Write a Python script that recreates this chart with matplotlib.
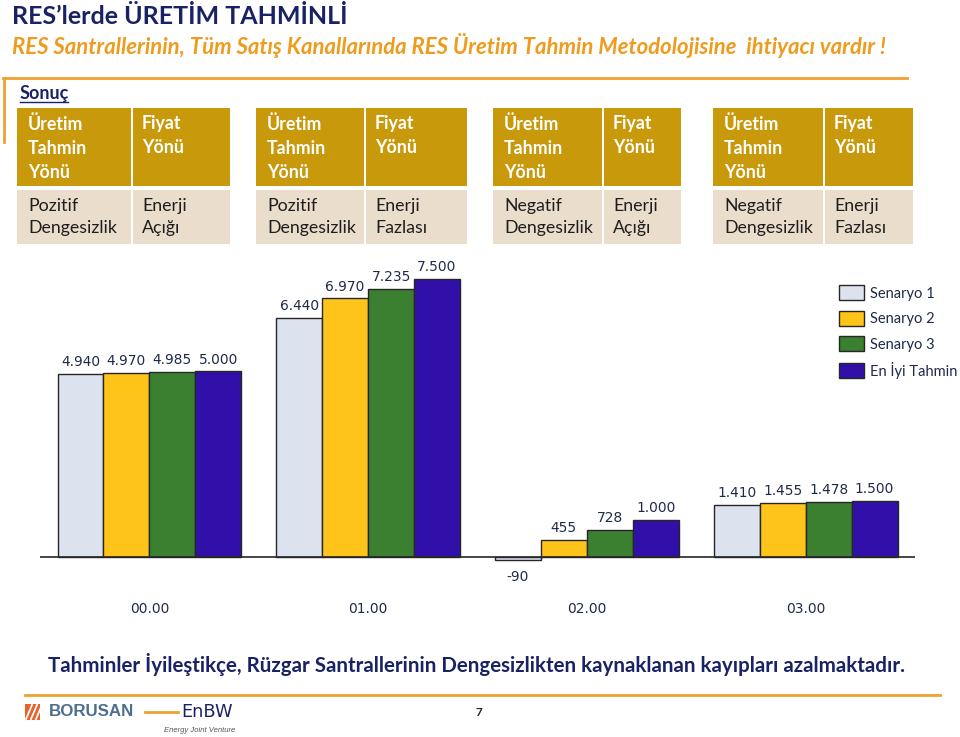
import matplotlib
matplotlib.use("Agg")
import matplotlib.pyplot as plt
from matplotlib.patches import Rectangle
import numpy as np

# ---------------- data ----------------
categories = ["00.00", "01.00", "02.00", "03.00"]
series_names = ["Senaryo 1", "Senaryo 2", "Senaryo 3", "En İyi Tahmin"]
senaryo1 = [4940, 6440, -90, 1410]
senaryo2 = [4970, 6970, 455, 1455]
senaryo3 = [4985, 7235, 728, 1478]
en_iyi = [5000, 7500, 1000, 1500]
value_labels = [
    ["4.940", "6.440", "-90", "1.410"],
    ["4.970", "6.970", "455", "1.455"],
    ["4.985", "7.235", "728", "1.478"],
    ["5.000", "7.500", "1.000", "1.500"],
]
colors = ["#DCE3EE", "#FFC419", "#3B7F30", "#3010A8"]

table_headers = [("Üretim\nTahmin\nYönü", "Fiyat\nYönü")] * 4
table_rows = [("Pozitif\nDengesizlik", "Enerji\nAçığı"),
              ("Pozitif\nDengesizlik", "Enerji\nFazlası"),
              ("Negatif\nDengesizlik", "Enerji\nAçığı"),
              ("Negatif\nDengesizlik", "Enerji\nFazlası")]

title = "RES’lerde ÜRETİM TAHMİNLİ"
subtitle = "RES Santrallerinin, Tüm Satış Kanallarında RES Üretim Tahmin Metodolojisine  ihtiyacı vardır !"
conclusion = "Tahminler İyileştikçe, Rüzgar Santrallerinin Dengesizlikten kaynaklanan kayıpları azalmaktadır."

W, H = 960, 737
fig = plt.figure(figsize=(W / 100, H / 100), dpi=100)
fig.patch.set_facecolor("white")

NAVY = "#1A2266"
ORANGE = "#F0A030"
FONT = ["Lato", "DejaVu Sans"]


def fx(x):
    return x / W


def fy(y):
    return 1 - y / H


def ptext(x, y, s, **kw):
    kw.setdefault("family", FONT)
    return fig.text(fx(x), fy(y), s, **kw)


def prect(x0, y0, x1, y1, **kw):
    r = Rectangle((fx(x0), fy(y1)), fx(x1) - fx(x0), fy(y0) - fy(y1),
                  transform=fig.transFigure, **kw)
    fig.add_artist(r)
    return r


def pline(xs, ys, **kw):
    fig.add_artist(plt.Line2D([fx(x) for x in xs], [fy(y) for y in ys],
                              transform=fig.transFigure, **kw))


# ---------------- titles ----------------
ptext(12, 17, title, fontsize=18, fontweight="bold", color=NAVY, va="center")
ptext(12, 46, subtitle, fontsize=15.9, fontweight="bold", style="italic",
      color="#EE9B1E", va="center")

# orange frame lines
pline([3, 907], [78, 78], color=ORANGE, lw=2)
pline([4, 4], [78, 142], color=ORANGE, lw=2)

ptext(20, 93, "Sonuç", fontsize=13, fontweight="bold", color=NAVY, va="center")
pline([20, 68], [102, 102], color=NAVY, lw=1)

# ---------------- table ----------------
groups_x = [(17, 132, 230), (256, 365, 467), (493, 603, 681), (713, 824, 913)]
HEAD = "#C8990A"
BEIGE = "#EBDDCB"
TFS = 12.8
for (x0, xm, x1), (h1, h2), (r1, r2) in zip(groups_x, table_headers, table_rows):
    prect(x0, 108, xm - 1, 186, color=HEAD, lw=0)
    prect(xm + 1, 108, x1, 186, color=HEAD, lw=0)
    prect(x0, 190, xm - 1, 244, color=BEIGE, lw=0)
    prect(xm + 1, 190, x1, 244, color=BEIGE, lw=0)
    ptext(x0 + 11, 115, h1, fontsize=TFS, fontweight="bold", color="white",
          va="top", linespacing=1.49)
    ptext(xm + 10, 115, h2, fontsize=TFS, fontweight="bold", color="white",
          va="top", linespacing=1.49)
    ptext(x0 + 11, 198, r1, fontsize=TFS, color="#1E1E1E", va="top", linespacing=1.49)
    ptext(xm + 10, 198, r2, fontsize=TFS, color="#1E1E1E", va="top", linespacing=1.49)

# ---------------- bar chart ----------------
ymin, ymax = -1000, 8000
base_px = 557
scale = 0.0371
ax_bottom = base_px - ymin * scale
ax_top = base_px - ymax * scale
ax = fig.add_axes([fx(40), fy(ax_bottom), fx(915) - fx(40), fy(ax_top) - fy(ax_bottom)])
ax.set_xlim(-0.5, 3.5)
ax.set_ylim(ymin, ymax)
ax.axis("off")

x = np.arange(len(categories))
bw = 0.21
all_series = [senaryo1, senaryo2, senaryo3, en_iyi]
handles = []
for j, (vals, col, name) in enumerate(zip(all_series, colors, series_names)):
    xs = x + (j - 1.5) * bw
    bars = ax.bar(xs, vals, width=bw, color=col, edgecolor="#262626", linewidth=1,
                  label=name, zorder=2)
    handles.append(bars)
    for xi, v, lab in zip(xs, vals, value_labels[j]):
        if v >= 0:
            ax.annotate(lab, (xi, v), xytext=(0, 3.5), textcoords="offset points",
                        ha="center", va="bottom", fontsize=9.9, color="#1F2A4A",
                        family="DejaVu Sans")
        else:
            ax.annotate(lab, (xi, v), xytext=(0, -7), textcoords="offset points",
                        ha="center", va="top", fontsize=9.9, color="#1F2A4A",
                        family="DejaVu Sans")

ax.axhline(0, color="#262626", lw=1.2, zorder=3)

label_y = -(609 - base_px) / scale
for xi, c in zip(x, categories):
    ax.text(xi, label_y, c, ha="center", va="center",
            fontsize=9.9, color="#1F2A4A", family="DejaVu Sans")

leg = fig.legend(handles=handles, labels=series_names, loc="upper left",
                 bbox_to_anchor=(fx(839), fy(285)), frameon=False,
                 prop={"family": FONT, "size": 10.5}, handlelength=1.7,
                 handleheight=1.25, labelspacing=0.68, handletextpad=0.45,
                 borderpad=0, borderaxespad=0)
for t in leg.get_texts():
    t.set_color("#1F2A4A")

# ---------------- conclusion ----------------
ptext(476, 665, conclusion, fontsize=14.8, fontweight="bold", color=NAVY,
      ha="center", va="center")

# ---------------- footer ----------------
pline([25, 940], [695, 695], color=ORANGE, lw=2)
prect(25, 704, 40, 720, color="#E8632A", lw=0)
for k in range(3):
    pline([26 + 5 * k, 32 + 5 * k], [719, 705], color="white", lw=1.3)
ptext(49, 712, "BORUSAN", fontsize=12.2, fontweight="bold", color="#4D6E8E",
      va="center", family=["Liberation Sans", "DejaVu Sans"])
pline([145, 178], [712, 712], color=ORANGE, lw=2)
ptext(181, 712, "EnBW", fontsize=12.8, color="#1A2266", va="center",
      family=["DejaVu Sans"])
ptext(164, 731, "Energy Joint Venture", fontsize=5.5, style="italic",
      color="#555555", va="center", family=["Liberation Sans", "DejaVu Sans"])
ptext(479, 713, "7", fontsize=8.5, fontweight="bold", color="#222222",
      ha="center", va="center")

fig.savefig("out.png", dpi=100)
